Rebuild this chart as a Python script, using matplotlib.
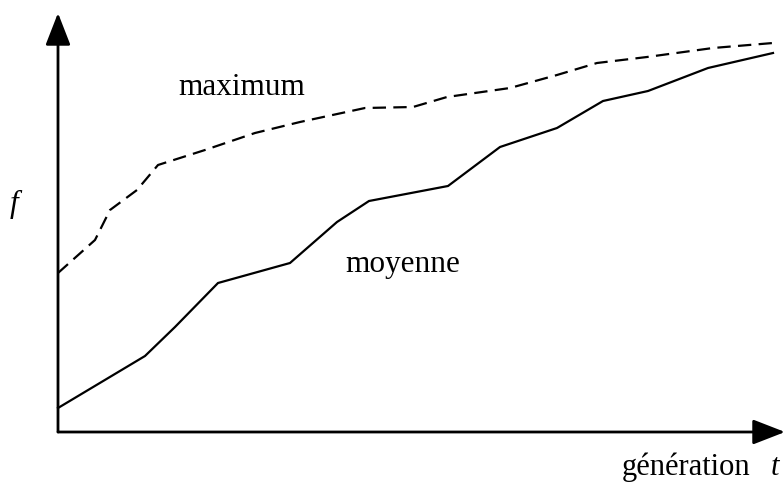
import matplotlib
matplotlib.use("Agg")
import matplotlib.pyplot as plt

# generation t (horizontal units) and fitness f (vertical units)
t_moyenne = [0, 87, 117, 160, 232, 279, 311, 390, 442, 499, 545, 590, 650, 715]
f_moyenne = [24, 76, 105, 149, 169, 210, 231, 246, 285, 304, 331, 341, 364, 379]

t_maximum = [0, 37, 52, 79, 100, 147, 197, 242, 307, 355, 389, 452, 499, 539, 589, 655, 715]
f_maximum = [159, 192, 222, 242, 267, 282, 299, 310, 324, 325, 335, 344, 357, 369, 375, 384, 389]

label_max = "maximum"
label_moy = "moyenne"
label_y = "f"
label_x = "génération"
label_x_var = "t"

W, H = 784, 484
fig = plt.figure(figsize=(W / 100, H / 100), dpi=100)
ax = fig.add_axes([58 / W, (H - 432) / H, (W - 58) / W, (432 - 13) / H])
ax.set_xlim(0, 726)
ax.set_ylim(0, 419)
ax.axis("off")

serif = "Liberation Serif"

# axes with arrows
arrow_kw = dict(arrowstyle="-|>,head_length=0.9,head_width=0.35", lw=2.0, color="black",
                shrinkA=0, shrinkB=0, mutation_scale=22)
ax.annotate("", xy=(0, 419), xytext=(0, 0), arrowprops=arrow_kw, annotation_clip=False)
ax.annotate("", xy=(727, 0), xytext=(0, 0), arrowprops=arrow_kw, annotation_clip=False)

ax.plot(t_moyenne, f_moyenne, color="black", lw=1.6, clip_on=False,
        solid_joinstyle="miter")
ax.plot(t_maximum, f_maximum, color="black", lw=1.6, clip_on=False,
        linestyle=(0, (6, 3.3)))

ax.text(120, 337, label_max, fontsize=22.5, family=serif, ha="left", va="baseline")
ax.text(287, 160, label_moy, fontsize=22.5, family=serif, ha="left", va="baseline")
ax.text(-48, 220, label_y, fontsize=22.5, family=serif, style="italic",
        ha="left", va="baseline", clip_on=False)
ax.text(564, -43, label_x, fontsize=22, family=serif, ha="left", va="baseline", clip_on=False)
ax.text(713, -43, label_x_var, fontsize=22, family=serif, style="italic",
        ha="left", va="baseline", clip_on=False)

fig.savefig("out.png", dpi=100)
